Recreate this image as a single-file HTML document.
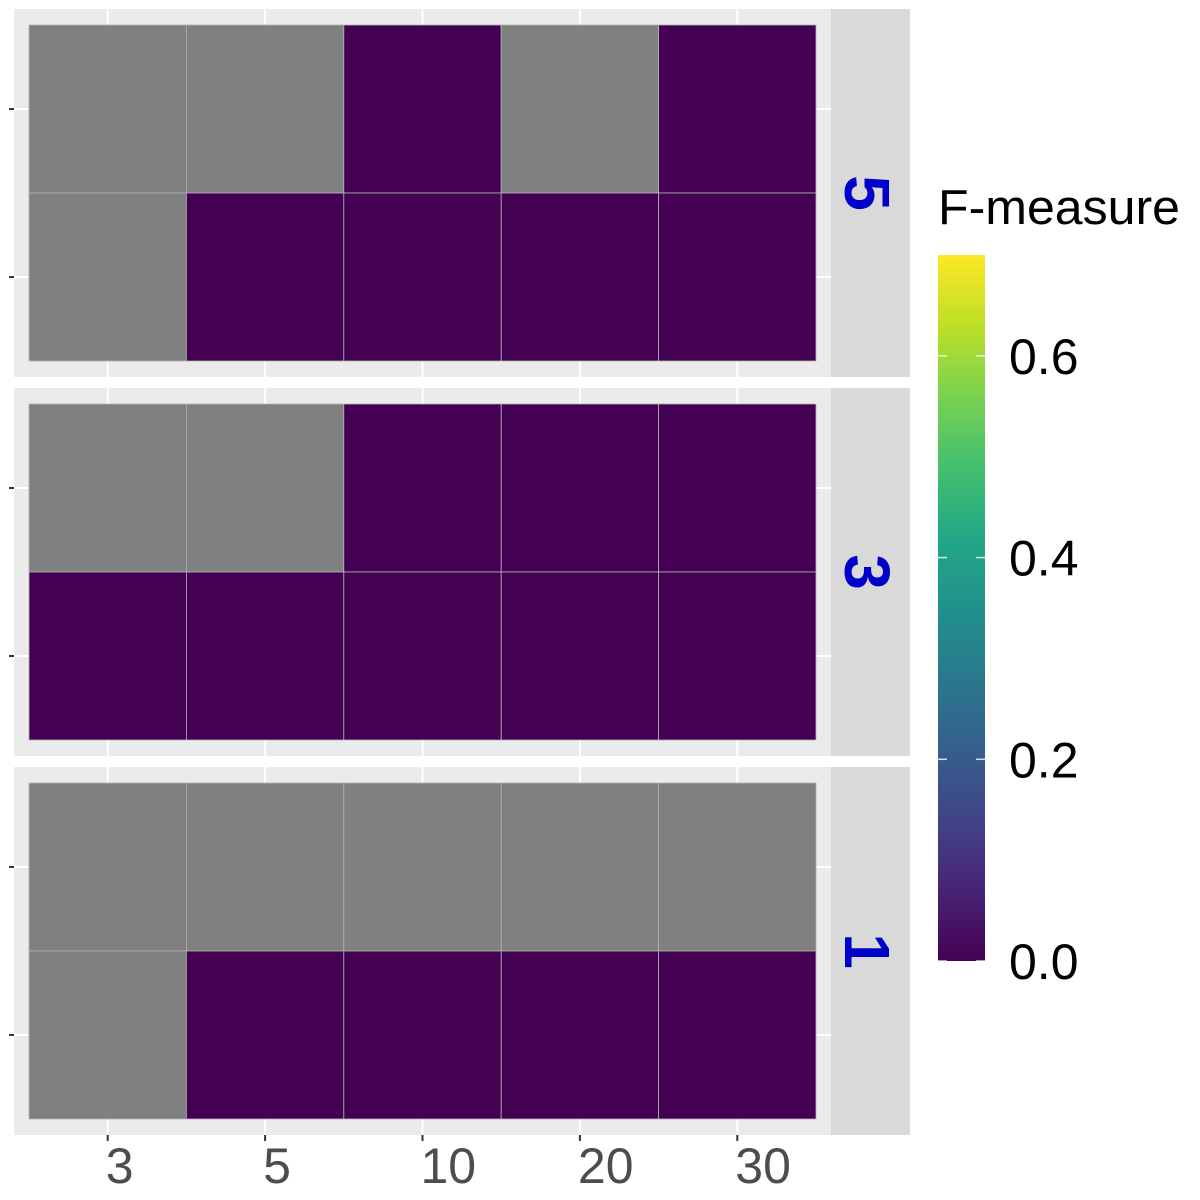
<!DOCTYPE html>
<html><head><meta charset="utf-8"><style>
body{margin:0;background:#fff}
svg{display:block;font-family:"Liberation Sans",sans-serif}
</style></head><body>
<svg id="chart" width="1200" height="1200" viewBox="0 0 1200 1200">
<defs>
<linearGradient id="vir" x1="0" y1="1" x2="0" y2="0">
<stop offset="0" stop-color="#440154"/><stop offset="0.1" stop-color="#482475"/>
<stop offset="0.2" stop-color="#414487"/><stop offset="0.3" stop-color="#355f8d"/>
<stop offset="0.4" stop-color="#2a788e"/><stop offset="0.5" stop-color="#21918c"/>
<stop offset="0.6" stop-color="#22a884"/><stop offset="0.7" stop-color="#44bf70"/>
<stop offset="0.8" stop-color="#7ad151"/><stop offset="0.9" stop-color="#bddf26"/>
<stop offset="1" stop-color="#fde725"/>
</linearGradient>
</defs>
<g id="panels"></g>
<g id="legend">
<text x="938" y="224" font-size="49" fill="#000" textLength="242" lengthAdjust="spacingAndGlyphs">F-measure</text>
<rect x="938" y="255" width="47" height="706" fill="url(#vir)"/>
<g id="legticks"></g>
</g>
</svg>
<script>
const xCats = ["3","5","10","20","30"];
const facets = ["5","3","1"];
// values per facet: [top row, bottom row]; null = NA (gray)
const vals5 = [[null,null,0,null,0],[null,0,0,0,0]];
const vals3 = [[null,null,0,0,0],[0,0,0,0,0]];
const vals1 = [[null,null,null,null,null],[null,0,0,0,0]];
const facetVals = [vals5, vals3, vals1];
const legendTicks = [0.0, 0.2, 0.4, 0.6];
const legendMax = 0.7;

const NS = "http://www.w3.org/2000/svg";
function mk(tag, attrs, parent){const e=document.createElementNS(NS,tag);for(const k in attrs)e.setAttribute(k,attrs[k]);parent.appendChild(e);return e;}
const viridis=["#440154","#482475","#414487","#355f8d","#2a788e","#21918c","#22a884","#44bf70","#7ad151","#bddf26","#fde725"];
function color(v){if(v===null)return "#808080";const t=Math.max(0,Math.min(1,v/legendMax))*10;return viridis[Math.round(t)];}
const px0=14, px1=831, tileX0=29, tileW=(816-29)/xCats.length;
const panelTops=[9,388,767], panelH=368, tileY0off=16, tileH=168;
const xPos=i=>tileX0+tileW*(i+0.5);
const g=document.getElementById('panels');
facets.forEach((f,fi)=>{
  const top=panelTops[fi];
  const pg=mk('g',{},g);
  
  
  mk('rect',{x:px0,y:top,width:px1-px0,height:panelH,fill:"#ebebeb"},pg);
  xCats.forEach((c,i)=>{mk('line',{x1:xPos(i),x2:xPos(i),y1:top,y2:top+panelH,stroke:"#fff","stroke-width":2},pg);});
  [0,1].forEach(r=>{const yc=top+tileY0off+tileH*(r+0.5);mk('line',{x1:px0,x2:px1,y1:yc,y2:yc,stroke:"#fff","stroke-width":2},pg);
    mk('line',{x1:9,x2:14,y1:yc,y2:yc,stroke:"#333","stroke-width":2},pg);});
  facetVals[fi].forEach((row,r)=>{row.forEach((v,i)=>{
    const t=mk('rect',{x:tileX0+tileW*i,y:top+tileY0off+tileH*r,width:tileW,height:tileH,fill:color(v),stroke:"#b3b3b3","stroke-width":0.8},pg);
    
    
  });});
  const s=mk('rect',{x:831,y:top,width:79,height:panelH,fill:"#d9d9d9"},pg);
  
  
  const cy=top+panelH/2;
  const st=mk('text',{x:867,y:cy,transform:`rotate(90 867 ${cy})`,"text-anchor":"middle","dominant-baseline":"central","font-size":64,"font-weight":"bold",fill:"#0000cc"},pg);
  st.textContent=f;
  
  
});
xCats.forEach((c,i)=>{
  mk('line',{x1:xPos(i),x2:xPos(i),y1:1135,y2:1141,stroke:"#333","stroke-width":2},g);
  const t=mk('text',{x:xPos(i)-2,y:1183,"text-anchor":"start","font-size":50,fill:"#4d4d4d"},g);
  t.textContent=c;
  
  
});
const lt=document.getElementById('legticks');
const ly=v=>961-v/legendMax*706;
legendTicks.forEach(v=>{
  const y=ly(v);
  mk('line',{x1:938,x2:947,y1:y,y2:y,stroke:"#fff","stroke-width":1.5,opacity:0.8},lt);
  mk('line',{x1:976,x2:985,y1:y,y2:y,stroke:"#fff","stroke-width":1.5,opacity:0.8},lt);
  const t=mk('text',{x:1009,y:y+18,"font-size":50,fill:"#000"},lt);
  t.textContent=v.toFixed(1);
  
  
});
</script>
</body></html>
